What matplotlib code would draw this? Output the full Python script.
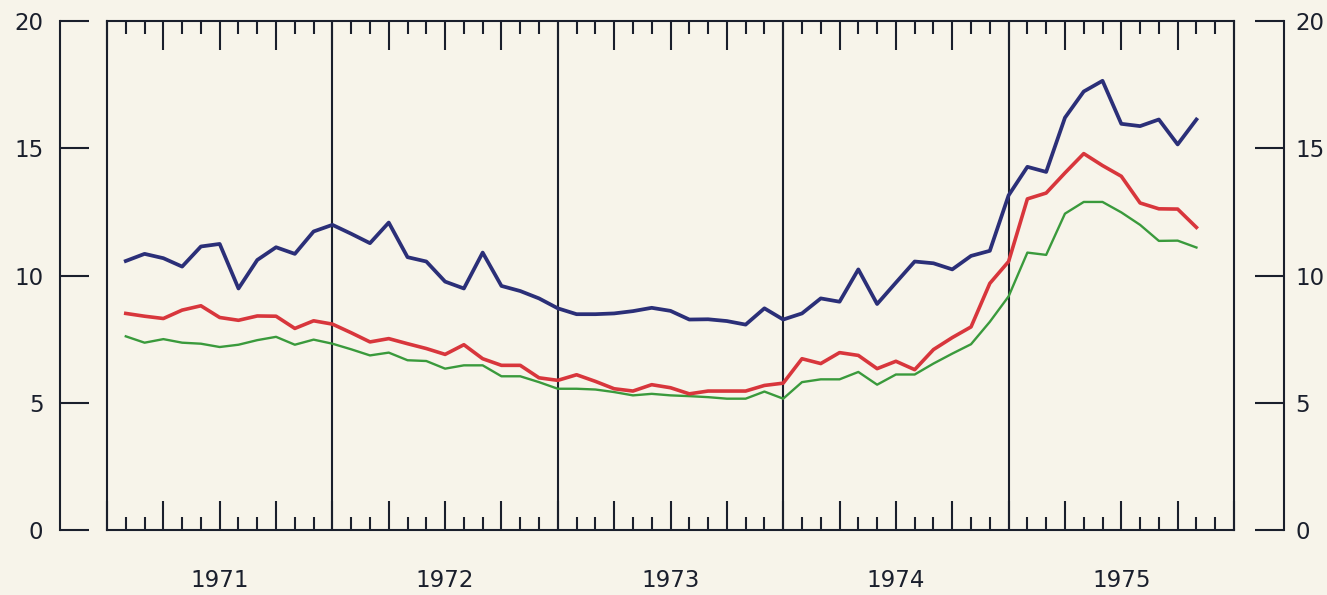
import numpy as np
import matplotlib
matplotlib.use("Agg")
import matplotlib.pyplot as plt

# monthly values, Jan 1971 .. Oct 1975 (plotted at month end)
years = ["1971", "1972", "1973", "1974", "1975"]

blue = [10.57, 10.85, 10.68, 10.35, 11.14, 11.24, 9.49, 10.61, 11.11, 10.85, 11.73, 11.99,
        11.64, 11.27, 12.08, 10.72, 10.55, 9.76, 9.49, 10.90, 9.59, 9.39, 9.10, 8.71,
        8.48, 8.48, 8.51, 8.60, 8.73, 8.61, 8.27, 8.28, 8.21, 8.07, 8.71, 8.27,
        8.51, 9.10, 8.97, 10.24, 8.88, 9.72, 10.55, 10.48, 10.24, 10.77, 10.97, 13.15,
        14.27, 14.07, 16.20, 17.23, 17.65, 15.96, 15.87, 16.13, 15.15, 16.13]

red = [8.51, 8.40, 8.31, 8.64, 8.81, 8.35, 8.24, 8.41, 8.40, 7.92, 8.22, 8.09,
       7.75, 7.39, 7.52, 7.32, 7.13, 6.90, 7.28, 6.73, 6.47, 6.47, 5.98, 5.88,
       6.10, 5.84, 5.55, 5.46, 5.71, 5.59, 5.35, 5.46, 5.46, 5.46, 5.68, 5.77,
       6.73, 6.54, 6.97, 6.86, 6.34, 6.63, 6.30, 7.09, 7.56, 7.98, 9.69, 10.55,
       13.01, 13.24, 14.03, 14.79, 14.32, 13.90, 12.85, 12.62, 12.61, 11.89]

green = [7.61, 7.36, 7.50, 7.36, 7.32, 7.19, 7.28, 7.46, 7.59, 7.28, 7.48, 7.32,
         7.10, 6.86, 6.97, 6.67, 6.64, 6.34, 6.47, 6.47, 6.04, 6.04, 5.81, 5.55,
         5.55, 5.52, 5.42, 5.29, 5.35, 5.29, 5.26, 5.22, 5.16, 5.16, 5.44, 5.16,
         5.81, 5.92, 5.92, 6.21, 5.71, 6.11, 6.11, 6.54, 6.93, 7.30, 8.18, 9.18,
         10.90, 10.81, 12.43, 12.89, 12.89, 12.48, 11.99, 11.36, 11.37, 11.10]

y_ticks = [0, 5, 10, 15, 20]

BG = "#f7f4ea"
INK = "#1a1f2c"
W, H = 1327, 595

months = np.arange(1, len(blue) + 1)

fig = plt.figure(figsize=(W / 100, H / 100), dpi=100, facecolor=BG)
bottom = (H - 530) / H
height = (530 - 21) / H

ax = fig.add_axes([107 / W, bottom, (1234 - 107) / W, height])
ax.set_facecolor(BG)
ax.set_xlim(0, 60)
ax.set_ylim(0, 20)

for s in ax.spines.values():
    s.set_color(INK)
    s.set_linewidth(1.5)

ax.set_yticks([])
ax.set_xticks(np.arange(0, 61, 3))
ax.set_xticks(np.arange(0, 61, 1), minor=True)
ax.tick_params(axis="x", which="major", direction="in", top=True, bottom=True,
               length=21, width=1.5, color=INK, labelbottom=False)
ax.tick_params(axis="x", which="minor", direction="in", top=True, bottom=True,
               length=9.5, width=1.5, color=INK)

for b in range(12, 60, 12):
    ax.axvline(b, color=INK, lw=1.5, zorder=1)

ax.plot(months, green, color="#3a9a3c", lw=1.7, zorder=3)
ax.plot(months, red, color="#d8363c", lw=2.6, zorder=3)
ax.plot(months, blue, color="#2b2f78", lw=2.7, zorder=4)

for i, yr in enumerate(years):
    ax.text(6 + 12 * i, -0.1, yr, transform=ax.get_xaxis_transform(),
            ha="center", va="center", fontsize=16.5, color=INK)

# outer value scales
for xpos, side in [(60, "left"), (1284, "right")]:
    sa = fig.add_axes([xpos / W if side == "left" else (xpos - 2) / W, bottom, 2 / W, height])
    sa.patch.set_visible(False)
    sa.set_ylim(0, 20)
    sa.set_xticks([])
    for k, s in sa.spines.items():
        s.set_visible(k == side)
    sa.spines[side].set_color(INK)
    sa.spines[side].set_linewidth(1.5)
    sa.yaxis.set_ticks_position(side)
    sa.set_yticks(y_ticks)
    sa.tick_params(axis="y", direction="in", length=21, width=1.5, color=INK,
                   labelsize=16.5, labelcolor=INK, pad=12 if side == "left" else 8)

fig.savefig("out.png", dpi=100, facecolor=BG)
